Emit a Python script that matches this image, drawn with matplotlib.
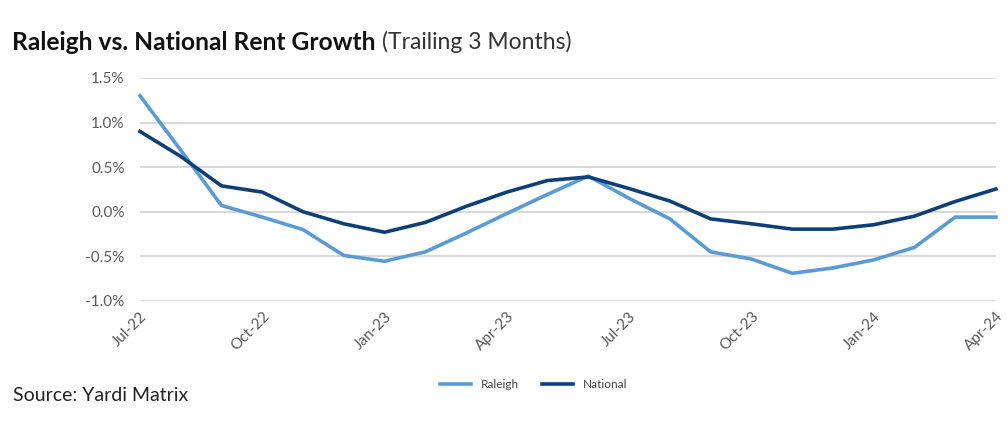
import matplotlib
matplotlib.use("Agg")
import matplotlib.pyplot as plt
from matplotlib.ticker import FuncFormatter

plt.rcParams['font.family'] = ['Lato', 'DejaVu Sans']

months = ['Jul-22', 'Aug-22', 'Sep-22', 'Oct-22', 'Nov-22', 'Dec-22',
          'Jan-23', 'Feb-23', 'Mar-23', 'Apr-23', 'May-23', 'Jun-23',
          'Jul-23', 'Aug-23', 'Sep-23', 'Oct-23', 'Nov-23', 'Dec-23',
          'Jan-24', 'Feb-24', 'Mar-24', 'Apr-24']
raleigh = [1.30, 0.69, 0.07, -0.06, -0.20, -0.49, -0.555, -0.45, -0.24, -0.02,
           0.195, 0.40, 0.15, -0.08, -0.45, -0.53, -0.69, -0.63, -0.54, -0.40,
           -0.06, -0.06]
national = [0.90, 0.62, 0.29, 0.22, 0.0, -0.135, -0.23, -0.12, 0.06, 0.22,
            0.35, 0.39, 0.26, 0.12, -0.08, -0.135, -0.195, -0.195, -0.146, -0.05,
            0.115, 0.255]
tick_months = ['Jul-22', 'Oct-22', 'Jan-23', 'Apr-23', 'Jul-23', 'Oct-23', 'Jan-24', 'Apr-24']

fig = plt.figure(figsize=(10.07, 4.33), dpi=100)
ax = fig.add_axes([0.139, 0.305, 0.850, 0.515])

x = list(range(len(months)))
ax.plot(x, raleigh, color='#5B9BD5', lw=2.6, label='Raleigh', clip_on=False, zorder=3)
ax.plot(x, national, color='#0E3F78', lw=2.6, label='National', clip_on=False, zorder=4)

ax.set_xlim(0, len(months) - 1)
ax.set_ylim(-1.0, 1.5)
ax.set_yticks([-1.0, -0.5, 0.0, 0.5, 1.0, 1.5])
ax.yaxis.set_major_formatter(FuncFormatter(lambda v, p: f'{v:.1f}%'))
ax.set_xticks([months.index(m) for m in tick_months])
ax.set_xticklabels(tick_months, rotation=45, ha='right', rotation_mode='anchor')
ax.grid(axis='y', color='#D9D9D9', lw=1.5)
ax.set_axisbelow(True)
for s in ax.spines.values():
    s.set_visible(False)
ax.tick_params(length=0, colors='#595959', labelsize=11)
ax.tick_params(axis='y', pad=11)
ax.tick_params(axis='x', pad=6)

ax.legend(loc='center', bbox_to_anchor=(0.46, -0.375), ncol=2, frameon=False,
          fontsize=8.5, handlelength=2.6, columnspacing=2.0, labelcolor='#404040')

t1 = fig.text(0.012, 0.903, 'Raleigh vs. National Rent Growth', fontsize=17.7,
              fontweight='bold', color='#111111', va='center')
fig.canvas.draw()
bb = t1.get_window_extent()
fig.text(bb.x1 / fig.bbox.width + 0.006, 0.903, '(Trailing 3 Months)', fontsize=16.5,
         color='#333333', va='center')

fig.text(0.013, 0.087, 'Source: Yardi Matrix', fontsize=14, color='#222222', va='center')

fig.savefig('out.png', dpi=100)
